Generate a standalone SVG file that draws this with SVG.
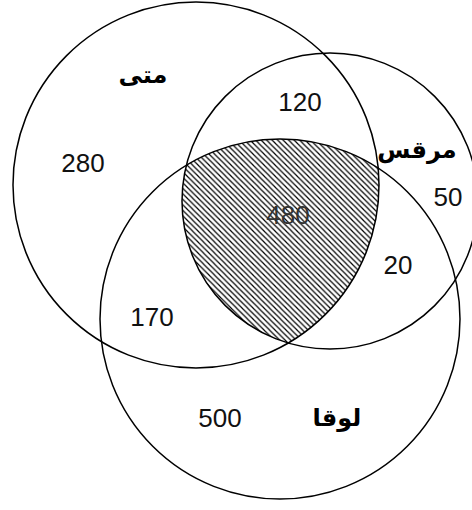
<svg xmlns="http://www.w3.org/2000/svg" width="472" height="510" viewBox="0 0 472 510">
<style>
.ring{fill:none;stroke:#000;stroke-width:1.5}
.num{font-family:"Liberation Sans",Arial,sans-serif;font-size:26px;fill:#111;text-anchor:middle}
.ar{font-family:"DejaVu Sans","Noto Sans",sans-serif;font-size:24px;font-weight:bold;fill:#000;text-anchor:middle}
</style>
<defs>
<pattern id="hatch" patternUnits="userSpaceOnUse" width="5.5" height="5.5">
<path d="M0,0 L5.5,5.5 M-1,4.5 L1,6.5 M4.5,-1 L6.5,1" stroke="#000" stroke-width="1.2"/>
</pattern>
<clipPath id="cMatt"><circle cx="196" cy="185" r="183"/></clipPath>
<clipPath id="cMark"><circle cx="330" cy="201" r="148"/></clipPath>
</defs>
<rect width="472" height="510" fill="#fff"/>
<g id="intersection" clip-path="url(#cMatt)">
<g clip-path="url(#cMark)">
<circle cx="280" cy="319" r="180" fill="url(#hatch)"/>
</g>
</g>
<g id="matthew">
<circle class="ring" cx="196" cy="185" r="183"/>
<text class="ar" x="143" y="83">متى</text>
<text class="num" x="83" y="172">280</text>
</g>
<g id="mark">
<circle class="ring" cx="330" cy="201" r="148"/>
<text class="ar" x="417" y="158">مرقس</text>
<text class="num" x="448" y="206">50</text>
</g>
<g id="luke">
<circle class="ring" cx="280" cy="319" r="180"/>
<text class="ar" x="337" y="426">لوقا</text>
<text class="num" x="220" y="427">500</text>
</g>
<g id="labels">
<text class="num" x="300" y="111">120</text>
<text class="num" x="152" y="326">170</text>
<text class="num" x="398" y="274">20</text>
<text class="num" x="288" y="224" style="fill:#333">480</text>
</g>
<g id="connectors"/>
</svg>
